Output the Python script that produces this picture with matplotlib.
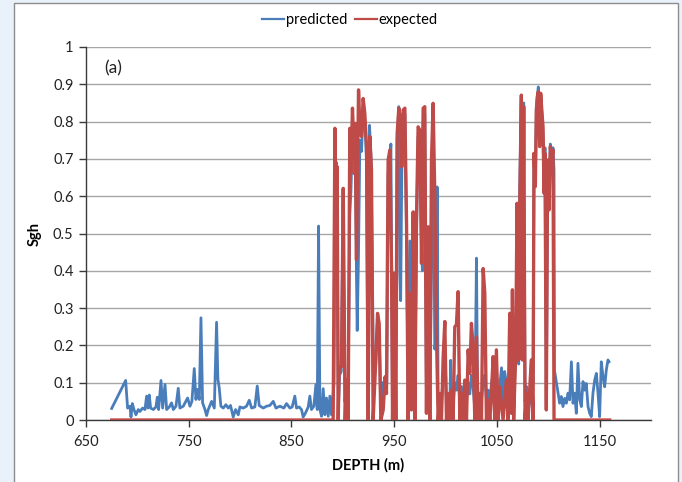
import matplotlib
matplotlib.use("Agg")
import matplotlib.pyplot as plt
from matplotlib.patches import Rectangle

plt.rcParams['font.family'] = ['Lato', 'DejaVu Sans']

# ---------------- data ----------------
pred_depth = [
    675.0, 688.6, 690.5, 692.8, 693.8, 695.1, 696.7, 698.6, 700.9, 702.5, 705.1, 707.4,
    709.0, 710.3, 711.6, 712.9, 715.5, 718.1, 719.4, 720.7, 723.0, 724.6, 726.9, 728.5,
    731.1, 733.3, 735.0, 737.6, 739.8, 741.4, 744.7, 748.9, 751.2, 753.1, 755.4, 757.0,
    758.6, 760.3, 761.9, 763.5, 765.8, 767.4, 769.0, 772.3, 774.9, 775.8, 777.1, 778.4,
    779.7, 781.3, 783.6, 786.2, 788.5, 790.7, 793.3, 795.6, 798.2, 799.8, 803.1, 806.3,
    808.9, 811.2, 814.4, 816.7, 818.6, 822.5, 825.8, 829.0, 832.3, 834.9, 838.7, 842.6,
    845.2, 848.5, 850.7, 853.3, 854.9, 857.5, 859.8, 861.4, 863.7, 866.3, 867.9, 869.5,
    871.8, 873.8, 875.1, 876.4, 877.7, 879.3, 880.9, 882.5, 884.1, 885.8, 887.4, 889.0,
    890.0, 891.5, 892.5, 893.9, 895.0, 895.6, 896.8, 898.5, 900.2, 902.0, 903.6, 905.0,
    906.8, 908.0, 909.5, 911.0, 912.2, 913.3, 914.0, 915.3, 916.6, 918.2, 919.8, 921.4,
    923.0, 924.6, 926.0, 927.5, 929.0, 929.8, 932.0, 933.8, 935.4, 937.0, 938.5, 940.0,
    941.5, 942.8, 944.1, 945.8, 946.8, 947.6, 948.4, 950.0, 951.6, 952.9, 954.5, 955.5,
    956.3, 957.4, 958.7, 960.4, 962.0, 963.6, 965.2, 966.8, 968.5, 970.1, 971.7, 973.3,
    975.0, 976.6, 977.5, 978.2, 979.8, 981.4, 983.1, 984.7, 986.3, 987.9, 989.5, 991.2,
    991.8, 992.8, 994.4, 996.0, 997.7, 999.3, 1000.9, 1002.5, 1004.1, 1005.0, 1005.8, 1007.4,
    1009.0, 1010.6, 1012.2, 1013.9, 1015.5, 1017.1, 1018.7, 1020.4, 1022.0, 1023.6, 1025.2, 1026.8,
    1028.5, 1030.1, 1031.0, 1031.7, 1033.3, 1035.0, 1036.6, 1038.2, 1039.8, 1041.4, 1043.1, 1044.7,
    1046.3, 1047.9, 1049.5, 1051.2, 1052.7, 1054.5, 1056.0, 1057.5, 1059.2, 1060.8, 1062.5, 1064.1,
    1065.1, 1066.3, 1068.3, 1069.6, 1071.2, 1072.2, 1073.8, 1074.8, 1076.1, 1077.4, 1078.7, 1080.3,
    1082.0, 1083.5, 1085.2, 1086.1, 1087.4, 1088.4, 1089.4, 1090.3, 1091.6, 1092.6, 1093.9, 1094.9,
    1095.9, 1096.8, 1098.1, 1099.4, 1100.7, 1102.0, 1103.3, 1104.6, 1105.6, 1106.0, 1109.5, 1111.1,
    1112.7, 1114.3, 1116.0, 1117.6, 1119.2, 1120.8, 1122.5, 1124.1, 1125.7, 1127.3, 1128.9, 1130.6,
    1132.2, 1133.8, 1135.4, 1137.0, 1138.7, 1140.3, 1141.9, 1143.5, 1145.2, 1146.8, 1148.4, 1150.0,
    1151.6, 1153.3, 1154.9, 1156.5, 1158.1, 1159.1,
]
pred_val = [
    0.031, 0.106, 0.032, 0.037, 0.008, 0.044, 0.028, 0.014, 0.028, 0.023, 0.032, 0.028,
    0.064, 0.032, 0.067, 0.032, 0.028, 0.035, 0.061, 0.028, 0.106, 0.032, 0.095, 0.028,
    0.035, 0.046, 0.028, 0.037, 0.085, 0.032, 0.037, 0.059, 0.037, 0.050, 0.138, 0.055,
    0.082, 0.055, 0.274, 0.046, 0.028, 0.012, 0.028, 0.050, 0.032, 0.123, 0.262, 0.109,
    0.086, 0.037, 0.032, 0.041, 0.032, 0.039, 0.008, 0.028, 0.014, 0.035, 0.032, 0.037,
    0.053, 0.032, 0.035, 0.091, 0.039, 0.032, 0.037, 0.039, 0.050, 0.032, 0.037, 0.032,
    0.044, 0.032, 0.035, 0.064, 0.032, 0.035, 0.028, 0.008, 0.019, 0.035, 0.064, 0.028,
    0.037, 0.095, 0.028, 0.520, 0.028, 0.010, 0.084, 0.014, 0.059, 0.010, 0.064, 0.014,
    0.050, 0.100, 0.640, 0.690, 0.300, 0.020, 0.120, 0.130, 0.580, 0.050, 0.090, 0.030,
    0.550, 0.620, 0.800, 0.660, 0.720, 0.380, 0.240, 0.450, 0.750, 0.720, 0.830, 0.800,
    0.700, 0.030, 0.790, 0.700, 0.340, 0.100, 0.150, 0.270, 0.240, 0.020, 0.100, 0.100,
    0.090, 0.100, 0.660, 0.700, 0.740, 0.400, 0.020, 0.380, 0.030, 0.750, 0.840, 0.390,
    0.320, 0.660, 0.800, 0.820, 0.500, 0.030, 0.480, 0.050, 0.530, 0.030, 0.500, 0.760,
    0.750, 0.460, 0.400, 0.800, 0.820, 0.050, 0.480, 0.030, 0.430, 0.820, 0.190, 0.220,
    0.625, 0.040, 0.070, 0.040, 0.120, 0.200, 0.050, 0.070, 0.030, 0.160, 0.060, 0.040,
    0.100, 0.080, 0.120, 0.050, 0.090, 0.040, 0.070, 0.050, 0.100, 0.070, 0.120, 0.090,
    0.030, 0.434, 0.120, 0.040, 0.070, 0.050, 0.100, 0.120, 0.060, 0.080, 0.040, 0.100,
    0.120, 0.060, 0.140, 0.050, 0.090, 0.140, 0.030, 0.130, 0.100, 0.050, 0.120, 0.080,
    0.130, 0.040, 0.180, 0.380, 0.150, 0.620, 0.870, 0.200, 0.850, 0.050, 0.090, 0.020,
    0.050, 0.160, 0.100, 0.700, 0.630, 0.840, 0.870, 0.893, 0.760, 0.870, 0.820, 0.760,
    0.620, 0.730, 0.050, 0.690, 0.580, 0.740, 0.700, 0.730, 0.670, 0.134, 0.072, 0.045,
    0.063, 0.036, 0.058, 0.045, 0.072, 0.054, 0.156, 0.045, 0.072, 0.018, 0.152, 0.054,
    0.036, 0.103, 0.080, 0.098, 0.036, 0.018, 0.009, 0.072, 0.107, 0.125, 0.072, 0.009,
    0.156, 0.116, 0.089, 0.134, 0.161, 0.156,
]

exp_depth = [
    675.0, 890.6, 892.3, 893.9, 894.5, 895.5, 896.5, 898.7, 900.4, 902.3, 903.6, 905.2,
    906.8, 907.8, 909.4, 911.1, 912.0, 913.3, 915.3, 916.6, 918.2, 919.8, 921.4, 923.1,
    924.7, 926.3, 927.9, 929.5, 932.1, 933.8, 935.4, 937.0, 939.3, 941.2, 942.5, 944.1,
    945.8, 947.4, 948.4, 950.0, 951.6, 952.9, 954.5, 956.1, 957.4, 958.7, 960.4, 962.0,
    963.6, 965.2, 966.8, 968.5, 970.1, 971.7, 973.3, 975.0, 976.6, 978.2, 979.8, 981.4,
    983.1, 984.7, 986.3, 987.9, 989.5, 991.2, 992.8, 994.4, 996.0, 997.7, 999.3, 1000.9,
    1002.5, 1004.1, 1005.8, 1007.4, 1009.0, 1010.6, 1012.2, 1013.9, 1015.5, 1017.1, 1018.7, 1020.4,
    1022.0, 1023.6, 1025.2, 1026.8, 1028.5, 1030.1, 1031.7, 1033.3, 1035.0, 1036.6, 1038.2, 1039.8,
    1041.4, 1043.1, 1044.7, 1046.3, 1047.9, 1049.5, 1051.2, 1052.7, 1056.0, 1059.2, 1060.8, 1062.5,
    1064.1, 1065.1, 1066.3, 1068.3, 1069.6, 1071.2, 1072.2, 1073.8, 1074.8, 1076.1, 1077.4, 1078.7,
    1080.3, 1083.5, 1085.2, 1086.1, 1087.4, 1088.4, 1089.4, 1090.3, 1091.6, 1092.6, 1093.9, 1094.9,
    1095.9, 1096.8, 1098.1, 1099.4, 1100.7, 1102.0, 1103.3, 1104.6, 1105.6, 1159.7,
]
exp_val = [
    0.0, 0.0, 0.782, 0.430, 0.679, 0.0, 0.143, 0.143, 0.621, 0.0, 0.107, 0.0,
    0.782, 0.661, 0.836, 0.697, 0.795, 0.430, 0.885, 0.786, 0.760, 0.862, 0.822, 0.733,
    0.0, 0.760, 0.670, 0.0, 0.161, 0.286, 0.259, 0.0, 0.027, 0.116, 0.071, 0.697,
    0.724, 0.410, 0.0, 0.393, 0.0, 0.768, 0.836, 0.804, 0.679, 0.831, 0.836, 0.536,
    0.0, 0.340, 0.027, 0.558, 0.0, 0.536, 0.786, 0.777, 0.420, 0.836, 0.840, 0.018,
    0.518, 0.0, 0.697, 0.849, 0.608, 0.223, 0.0, 0.071, 0.0, 0.170, 0.264, 0.0,
    0.071, 0.0, 0.080, 0.0, 0.250, 0.255, 0.344, 0.0, 0.071, 0.0, 0.107, 0.0,
    0.188, 0.125, 0.259, 0.197, 0.0, 0.223, 0.0, 0.071, 0.0, 0.406, 0.340, 0.0,
    0.054, 0.0, 0.071, 0.170, 0.0, 0.188, 0.0, 0.089, 0.0, 0.107, 0.0, 0.286,
    0.018, 0.349, 0.0, 0.179, 0.581, 0.161, 0.572, 0.871, 0.161, 0.840, 0.0, 0.071,
    0.0, 0.161, 0.0, 0.715, 0.626, 0.831, 0.867, 0.880, 0.733, 0.876, 0.822, 0.786,
    0.608, 0.715, 0.027, 0.697, 0.563, 0.733, 0.697, 0.724, 0.0, 0.0,
]

x_ticks = [650, 750, 850, 950, 1050, 1150]
y_ticks = [0, 0.1, 0.2, 0.3, 0.4, 0.5, 0.6, 0.7, 0.8, 0.9, 1]
y_tick_labels = ['0', '0.1', '0.2', '0.3', '0.4', '0.5', '0.6', '0.7', '0.8', '0.9', '1']

# ---------------- figure ----------------
W, H = 682, 482
fig = plt.figure(figsize=(W / 100, H / 100), dpi=100)
fig.patch.set_facecolor('#e9f1fb')
frame = Rectangle((14 / W, -0.02), (678 - 14) / W, 1.02 - 3 / H,
                  transform=fig.transFigure, facecolor='white',
                  edgecolor='#8c8c8c', linewidth=1.0, zorder=-10)
fig.add_artist(frame)

ax = fig.add_axes([86 / W, 1 - 420 / H, (651 - 86) / W, (420 - 47) / H], zorder=5)
ax.set_facecolor('none')

blue = '#4a7ebb'
red = '#be4b48'
ax.plot(pred_depth, pred_val, color=blue, lw=2.0, label='predicted', zorder=3,
        solid_joinstyle='round')
ax.plot(exp_depth, exp_val, color=red, lw=2.4, label='expected', zorder=4,
        solid_joinstyle='round')

ax.set_xlim(650, 1200)
ax.set_ylim(0, 1)
ax.set_xticks(x_ticks)
ax.set_yticks(y_ticks)
ax.set_yticklabels(y_tick_labels)
ax.grid(axis='y', color='#a6a6a6', lw=1.0)
ax.set_axisbelow(True)
for s in ['top', 'right']:
    ax.spines[s].set_visible(False)
for s in ['left', 'bottom']:
    ax.spines[s].set_color('#3a3a3a')
    ax.spines[s].set_linewidth(1.0)
ax.tick_params(axis='both', direction='out', length=5, width=1.0, color='#3a3a3a',
               labelsize=10.5, labelcolor='#222222')
ax.tick_params(axis='x', pad=6)
ax.tick_params(axis='y', pad=4)

ax.set_xlabel('DEPTH (m)', fontsize=10.5, fontweight='bold', labelpad=6)
ax.set_ylabel('Sgh', fontsize=10.5, fontweight='bold', labelpad=8)
ax.text(676, 0.944, '(a)', fontsize=12.5, ha='center', va='center', color='#222222')

leg = fig.legend(loc='center', bbox_to_anchor=(350 / W, 1 - 20 / H), ncol=2, frameon=False,
                 fontsize=10.5, handlelength=1.5, handletextpad=0.15, columnspacing=0.5)
for line in leg.get_lines():
    line.set_linewidth(1.6)

fig.savefig('out.png', dpi=100, facecolor=fig.get_facecolor())
